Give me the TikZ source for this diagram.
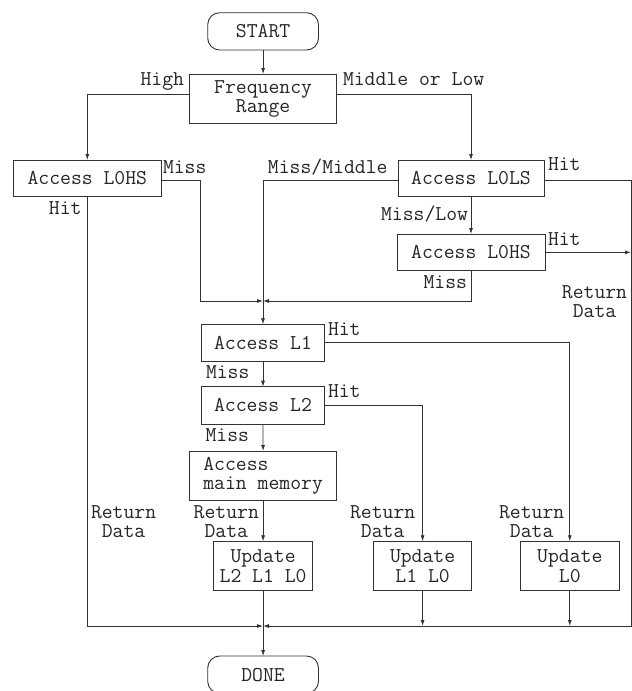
\documentclass[tikz,border=0pt]{standalone}
\usepackage{fontspec}
\usetikzlibrary{arrows.meta}
\begin{document}
\begin{tikzpicture}[x=1pt,y=-1pt,
  every node/.style={font=\ttfamily\fontsize{21.1}{19}\selectfont, text=black!85, inner sep=0pt, outer sep=0pt},
  box/.style={draw=black!80, line width=0.9pt, align=center},
  upd/.style={box, font=\ttfamily\fontsize{21.1}{20.5}\selectfont, minimum width=98.6pt, minimum height=49.4pt},
  term/.style={box, rounded corners=12pt, minimum width=110.8pt, minimum height=37.3pt},
  lbl/.style={align=center},
  conn/.style={draw=black!80, line width=0.8pt},
  arr/.style={conn, -{Latex[length=6pt,width=4pt]}}]
\useasboundingbox (0,0) rectangle (632,691);
% nodes
\node[term] (start) at (263.1,31.35) {START};
\node[box, minimum width=147.2pt, minimum height=49.3pt] (freq) at (263.1,98.65) {Frequency\\Range};
\node[box, minimum width=148pt, minimum height=36.7pt] (l0hsA) at (87.3,178.35) {Access L0HS};
\node[box, minimum width=146pt, minimum height=36.7pt] (l0ls) at (471,178.35) {Access L0LS};
\node[box, minimum width=148pt, minimum height=36.7pt] (l0hsB) at (471,252.35) {Access L0HS};
\node[box, minimum width=122.6pt, minimum height=36.7pt] (l1) at (263,342.65) {Access L1};
\node[box, minimum width=122.8pt, minimum height=37.3pt] (l2) at (263,405.35) {Access L2};
\node[box, align=left, minimum width=147.2pt, minimum height=49.7pt] (mem) at (263.1,475.85) {Access\\main memory};
\node[upd] (u210) at (263.1,566) {Update\\L2 L1 L0};
\node[upd] (u10) at (422.6,566) {Update\\L1 L0};
\node[upd] (u0) at (569.8,566) {Update\\L0};
\node[term] (done) at (263.1,674.65) {DONE};
% merge points
\coordinate (m1) at (263,301);
\coordinate (m2) at (263,626);
\coordinate (rc) at (631,626);
% connectors
\draw[arr] (start) -- (freq);
\draw[arr] ([yshift=4.35pt]freq.west) -| (l0hsA.north);
\draw[arr] ([yshift=4.35pt]freq.east) -| (l0ls.north);
\draw[arr] ([yshift=-1.6pt]l0hsA.east) -- ++(39.5,0) |- (m1);
\draw[arr] ([yshift=-1.6pt]l0ls.west) -| (l1.north);
\draw[arr] (l0ls.south) -- (l0hsB.north);
\draw[arr] (l0hsB.south) |- (m1);
\draw[arr] ([yshift=-1.6pt]l0ls.east) -| (rc) -- (m2);
\draw[arr] (l0hsB.east) -- (l0hsB.east -| rc);
\draw[arr] (l0hsA.south) |- (m2);
\draw[arr] (l1.south) -- (l2.north);
\draw[arr] (l1.east) -| (u0.north);
\draw[arr] (l2.south) -- (mem.north);
\draw[arr] (l2.east) -| (u10.north);
\draw[arr] (mem.south) -- (u210.north);
\draw[arr] (u210.south) -- (done.north);
\draw[arr] (u10.south) -- (u10.south |- m2);
\draw[arr] (u0.south) -- (u0.south |- m2);
% labels
\node[anchor=mid east] (tHigh) at (184,83) {High};
\node[anchor=mid west] (tML) at (343,83) {Middle or Low};
\node[anchor=mid west] (tMissA) at (163,171) {Miss};
\node[anchor=mid east] (tHitA) at (81.5,212) {Hit};
\node[anchor=mid east] (tMissMid) at (387.5,171) {Miss/Middle};
\node[anchor=mid west] (tHitLS) at (548,168) {Hit};
\node[anchor=mid east] (tMissLow) at (468,218) {Miss/Low};
\node[anchor=mid west] (tHitB) at (548,243.5) {Hit};
\node[anchor=mid east] (tMissB) at (467,286) {Miss};
\node[lbl] (tRDr) at (594.5,302) {Return\\Data};
\node[anchor=mid west] (tHitL1) at (328,333.5) {Hit};
\node[anchor=mid west] (tMissL1) at (206,376) {Miss};
\node[anchor=mid west] (tHitL2) at (328,395) {Hit};
\node[anchor=mid west] (tMissL2) at (205.6,439) {Miss};
\node[lbl] (tRD1) at (123.6,521.7) {Return\\Data};
\node[lbl] (tRD2) at (226.3,521.7) {Return\\Data};
\node[lbl] (tRD3) at (382.7,521.7) {Return\\Data};
\node[lbl] (tRD4) at (531.7,521.7) {Return\\Data};
\end{tikzpicture}
\end{document}
